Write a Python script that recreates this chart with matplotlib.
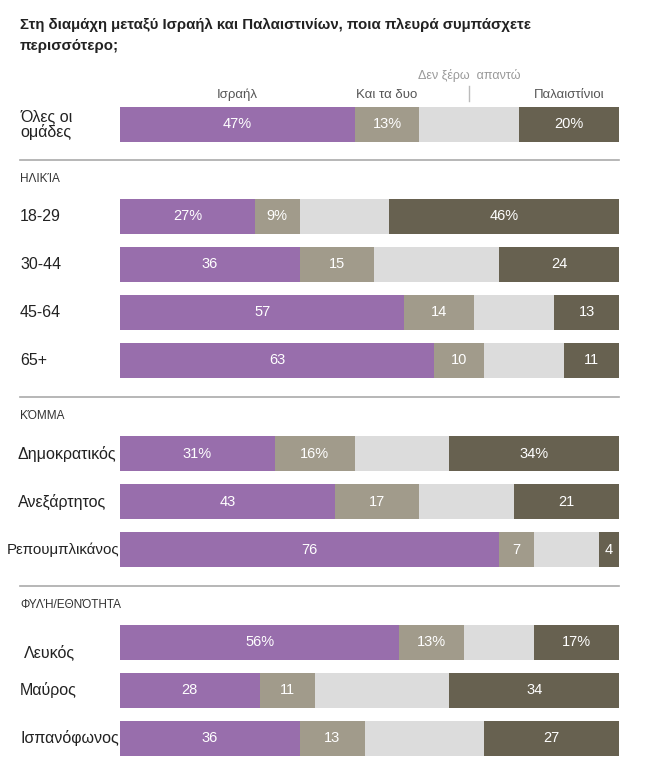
import matplotlib
matplotlib.use("Agg")
import matplotlib.pyplot as plt
from matplotlib.transforms import blended_transform_factory
from matplotlib.lines import Line2D

plt.rcParams['font.family'] = ['Liberation Sans', 'DejaVu Sans']

# ---------------- data ----------------
categories = ["Όλες οι\nομάδες", "18-29", "30-44", "45-64", "65+",
              "Δημοκρατικός", "Ανεξάρτητος", "Ρεπουμπλικάνος",
              "Λευκός", "Μαύρος", "Ισπανόφωνος"]
israel = [47, 27, 36, 57, 63, 31, 43, 76, 56, 28, 36]
both = [13, 9, 15, 14, 10, 16, 17, 7, 13, 11, 13]
dont_know = [20, 18, 25, 16, 16, 19, 19, 13, 14, 27, 24]
palestinians = [20, 46, 24, 13, 11, 34, 21, 4, 17, 34, 27]
pct_rows = [0, 1, 5, 8]  # rows whose labels carry a % sign

series_names = ["Ισραήλ", "Και τα δυο", "Δεν ξέρω  απαντώ", "Παλαιστίνιοι"]
section_titles = ["ΗΛΙΚΊΑ", "ΚΌΜΜΑ", "ΦΥΛΉ/ΕΘΝΌΤΗΤΑ"]
title = "Στη διαμάχη μεταξύ Ισραήλ και Παλαιστινίων, ποια πλευρά συμπάσχετε\nπερισσότερο;"

# ---------------- layout / style ----------------
W, H = 657, 783
colors = ["#986eac", "#a19b8b", "#dcdcdc", "#676150"]
row_y = [124.5, 216.5, 264.5, 312.5, 360.5, 453.5, 501.5, 549.5, 642.5, 690.5, 738.5]
label_x = [20, 20, 20, 20, 20, 18, 18, 7, 24, 20, 20]
label_dy = [0, 0, 0, 0, 0, 0, 0, 0, 10, 0, 0]
label_fs = [11.5] * 7 + [10.8] + [11.5] * 3
sep_y = [160, 397, 586]
sec_y = [179, 416, 605]
bar_h = 35

fig = plt.figure(figsize=(W / 100, H / 100), dpi=100)
ax = fig.add_axes([120 / W, 0, (619 - 120) / W, 1])
ax.set_xlim(0, 100)
ax.set_ylim(H, 0)
ax.axis("off")

series = [israel, both, dont_know, palestinians]
lefts = [0] * len(categories)
for si, vals in enumerate(series):
    ax.barh(row_y, vals, left=lefts, height=bar_h, color=colors[si], linewidth=0)
    if si != 2:
        for i, v in enumerate(vals):
            txt = f"{v}%" if i in pct_rows else f"{v}"
            ax.text(lefts[i] + v / 2, row_y[i], txt, ha="center", va="center",
                    color="white", fontsize=10.5)
    lefts = [l + v for l, v in zip(lefts, vals)]

tr = blended_transform_factory(fig.transFigure, ax.transData)
for i, c in enumerate(categories):
    ax.text(label_x[i] / W, row_y[i] + label_dy[i], c, transform=tr, ha="left",
            va="center", fontsize=label_fs[i], color="#222222", linespacing=0.95)

for y in sep_y:
    ax.add_line(Line2D([20 / W, 619 / W], [y, y], transform=tr, color="#aaaaaa",
                       linewidth=1.2, clip_on=False))
for t, y in zip(section_titles, sec_y):
    ax.text(20 / W, y, t, transform=tr, ha="left", va="center", fontsize=8.5,
            color="#333333")

# legend-like header labels
ax.text(israel[0] / 2, 95, series_names[0], ha="center", va="center",
        fontsize=9.5, color="#555555")
ax.text(israel[0] + both[0] / 2, 95, series_names[1], ha="center", va="center",
        fontsize=9.5, color="#555555")
dk_mid = israel[0] + both[0] + dont_know[0] / 2
ax.text(dk_mid, 75, series_names[2], ha="center", va="center",
        fontsize=9, color="#999999")
ax.plot([dk_mid, dk_mid], [86, 101], color="#bbbbbb", linewidth=1, clip_on=False)
ax.text(100 - palestinians[0] / 2, 95, series_names[3], ha="center", va="center",
        fontsize=9.5, color="#555555")

fig.text(20 / W, 1 - 35.5 / H, title, ha="left", va="center", fontsize=10.8,
         fontweight="bold", color="#222222", linespacing=1.65)

fig.savefig("out.png", dpi=100, facecolor="white")
